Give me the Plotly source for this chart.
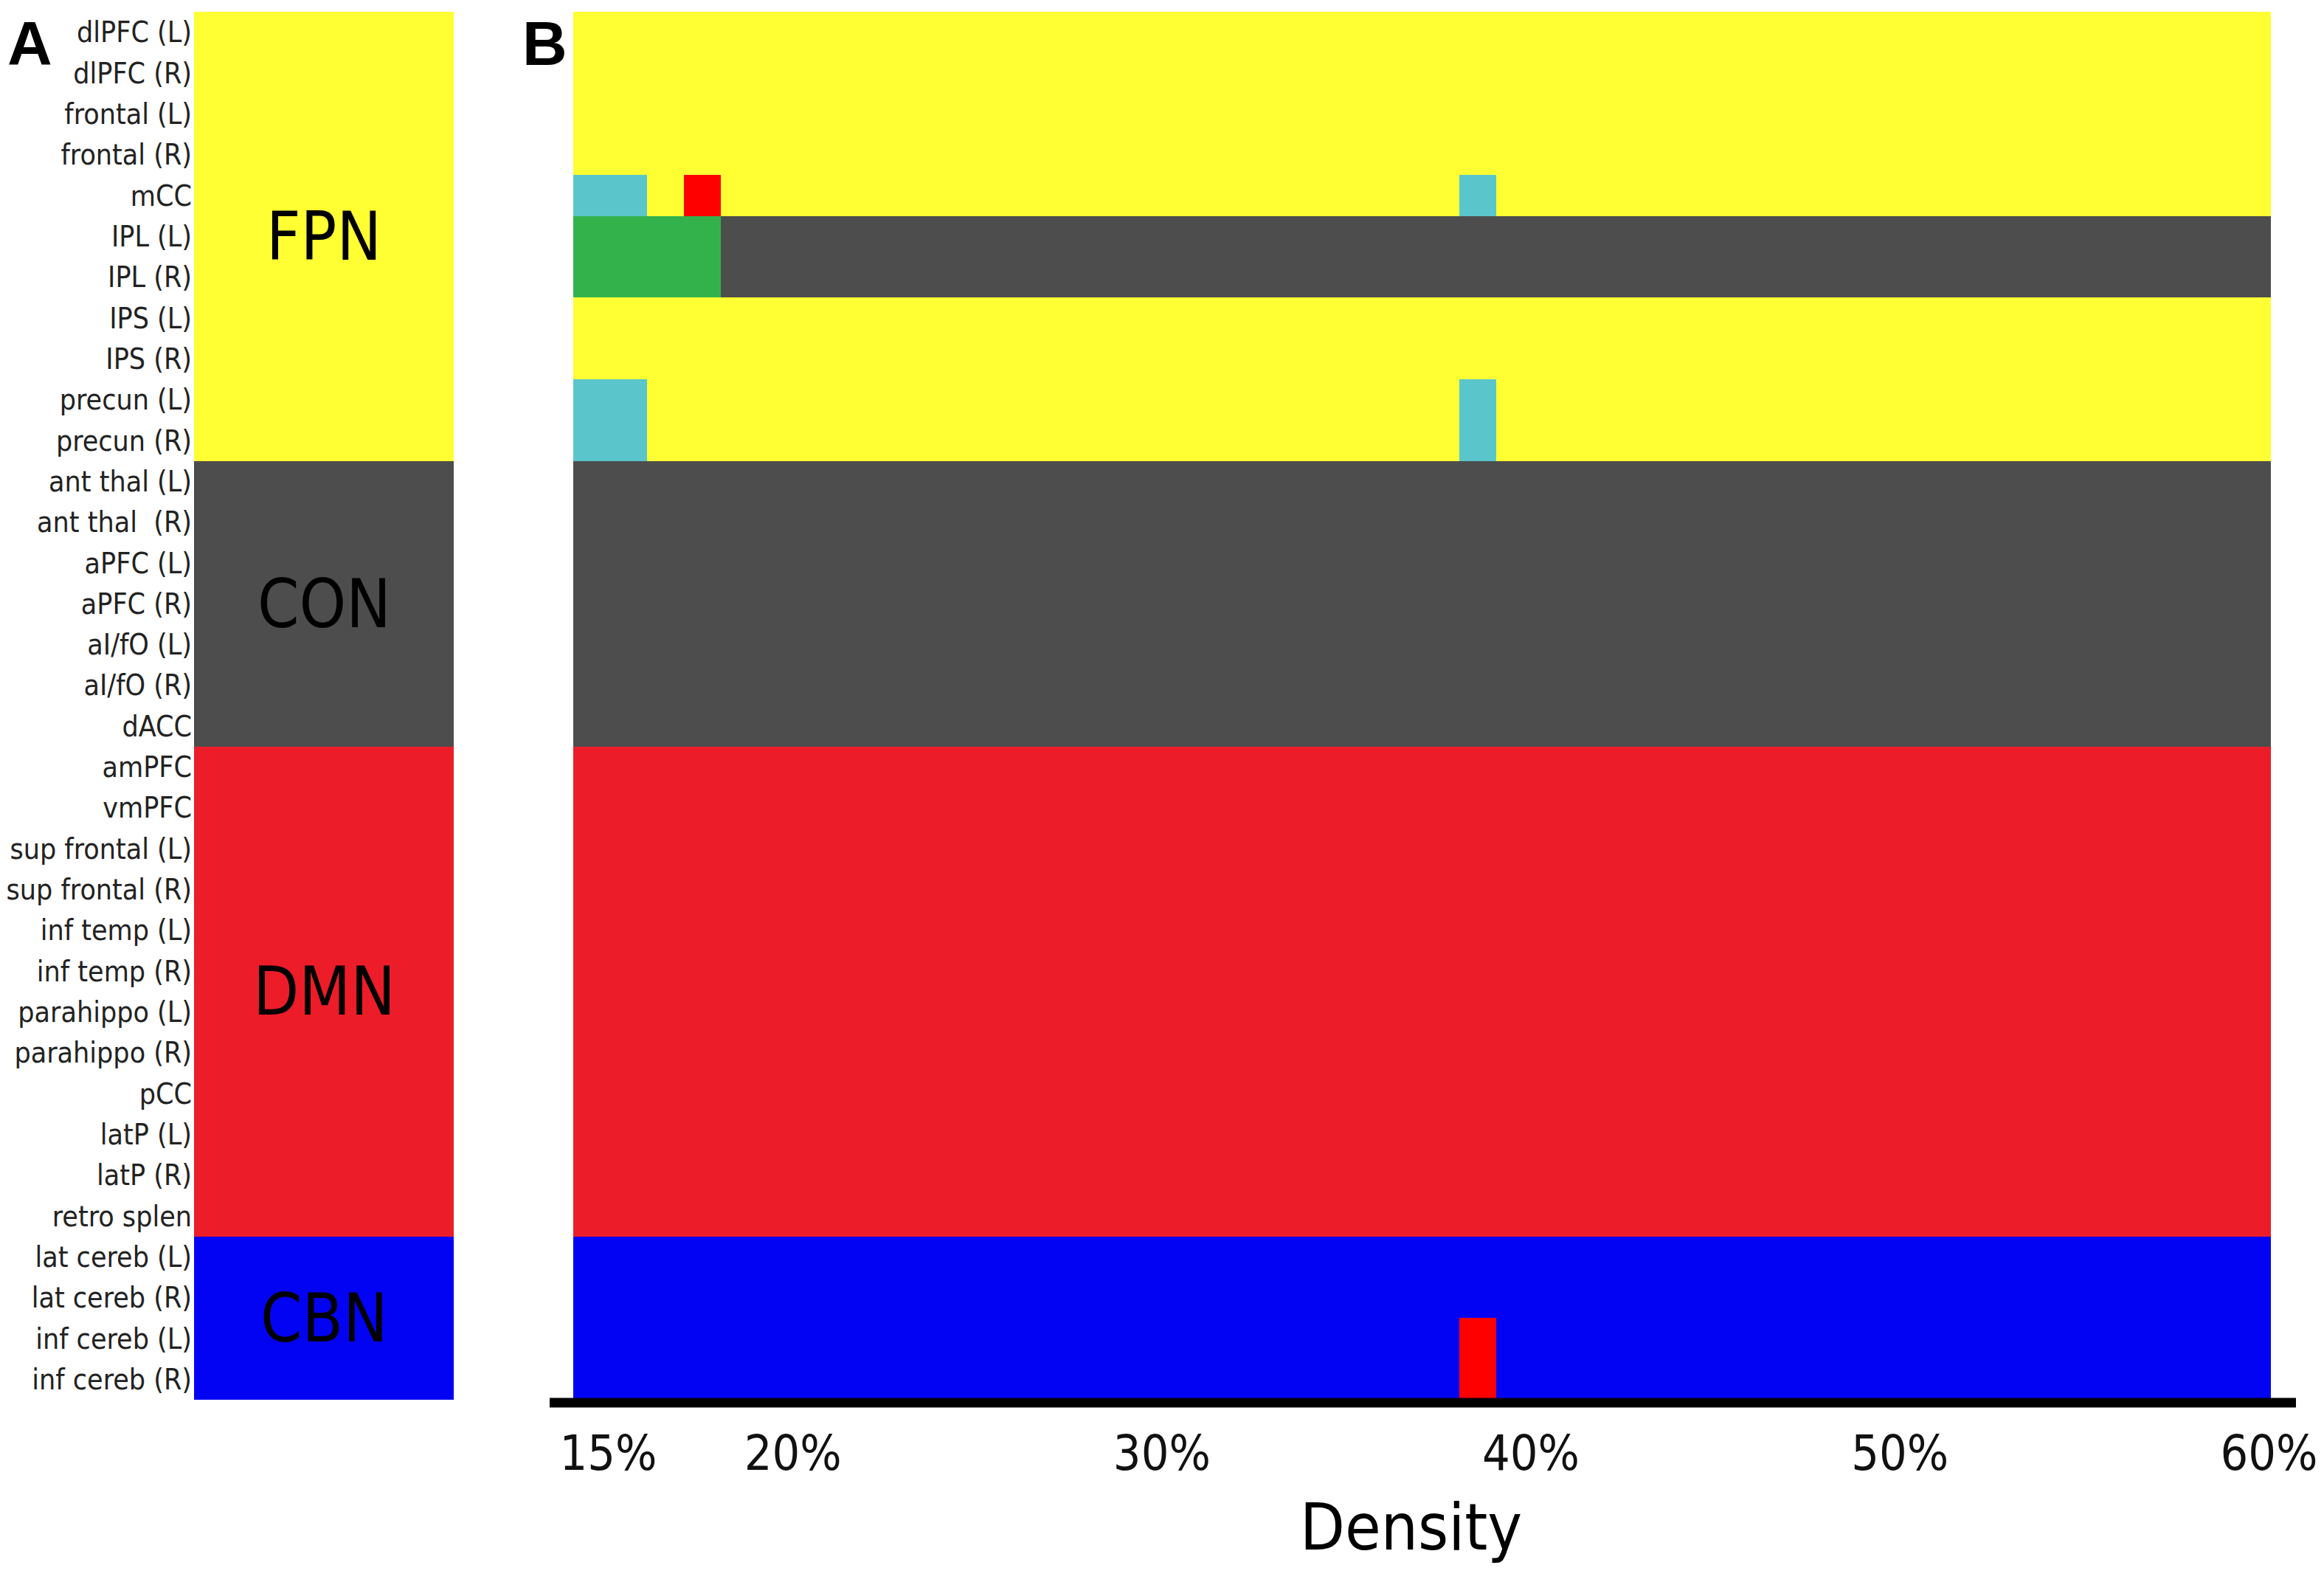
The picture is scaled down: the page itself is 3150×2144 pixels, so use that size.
import plotly.graph_objects as go

# rows, top to bottom
regions = [
    "dlPFC (L)", "dlPFC (R)", "frontal (L)", "frontal (R)", "mCC", "IPL (L)", "IPL (R)",
    "IPS (L)", "IPS (R)", "precun (L)", "precun (R)",
    "ant thal (L)", "ant thal  (R)", "aPFC (L)", "aPFC (R)", "aI/fO (L)", "aI/fO (R)", "dACC",
    "amPFC", "vmPFC", "sup frontal (L)", "sup frontal (R)", "inf temp (L)", "inf temp (R)",
    "parahippo (L)", "parahippo (R)", "pCC", "latP (L)", "latP (R)", "retro splen",
    "lat cereb (L)", "lat cereb (R)", "inf cereb (L)", "inf cereb (R)",
]
networks = ["FPN", "CON", "DMN", "CBN"]
network_sizes = [11, 7, 12, 4]
densities = list(range(15, 61))
tick_densities = [15, 20, 30, 40, 50, 60]

# module codes used in panel B
modules = ["FPN", "CON", "DMN", "CBN", "M5", "M6", "M7"]
module_colors = ["#FFFF33", "#4D4D4D", "#ED1C29", "#0303F3", "#5BC5CC", "#33B24C", "#FE0000"]

# module each region sits in for most densities
base_module = [
    "FPN", "FPN", "FPN", "FPN", "FPN", "CON", "CON", "FPN", "FPN", "FPN", "FPN",
    "CON", "CON", "CON", "CON", "CON", "CON", "CON",
    "DMN", "DMN", "DMN", "DMN", "DMN", "DMN", "DMN", "DMN", "DMN", "DMN", "DMN", "DMN",
    "CBN", "CBN", "CBN", "CBN",
]

# (region, density, module) where assignment differs
switches = [
    ("mCC", 15, "M5"), ("mCC", 16, "M5"), ("mCC", 18, "M7"), ("mCC", 39, "M5"),
    ("IPL (L)", 15, "M6"), ("IPL (L)", 16, "M6"), ("IPL (L)", 17, "M6"), ("IPL (L)", 18, "M6"),
    ("IPL (R)", 15, "M6"), ("IPL (R)", 16, "M6"), ("IPL (R)", 17, "M6"), ("IPL (R)", 18, "M6"),
    ("precun (L)", 15, "M5"), ("precun (L)", 16, "M5"), ("precun (L)", 39, "M5"),
    ("precun (R)", 15, "M5"), ("precun (R)", 16, "M5"), ("precun (R)", 39, "M5"),
    ("inf cereb (L)", 39, "M7"), ("inf cereb (R)", 39, "M7"),
]

W, H = 3150, 2144
PAGE_OFFSET = 8  # body margin of the html page
FONT = "DejaVu Sans Condensed, Liberation Sans Narrow, sans-serif"

# build matrices
code = {m: i for i, m in enumerate(modules)}
z_b = [[code[base_module[r]] for _ in densities] for r in range(len(regions))]
for reg, d, m in switches:
    z_b[regions.index(reg)][densities.index(d)] = code[m]

row_network = []
for net, n in zip(networks, network_sizes):
    row_network += [net] * n
z_a = [[code[net]] for net in row_network]

n = len(modules)
cscale = []
for k, c in enumerate(module_colors):
    cscale += [[k / n, c], [(k + 1) / n, c]]

rows = list(range(len(regions)))

fig = go.Figure()
fig.add_trace(go.Heatmap(
    z=z_a, x=[0], y=rows, colorscale=cscale, zmin=-0.5, zmax=n - 0.5,
    showscale=False, xaxis="x", yaxis="y", hoverinfo="skip",
))
fig.add_trace(go.Heatmap(
    z=z_b, x=densities, y=rows, colorscale=cscale, zmin=-0.5, zmax=n - 0.5,
    showscale=False, xaxis="x2", yaxis="y",
    customdata=[[regions[r]] * len(densities) for r in rows],
    hovertemplate="%{customdata}<br>%{x}%<extra></extra>",
))


def px(v):
    return (v - PAGE_OFFSET) / W


def py(v):
    return 1 - (v - PAGE_OFFSET) / H


# network names in panel A
start = 0
annotations = []
for net, n_rows in zip(networks, network_sizes):
    annotations.append(dict(
        x=0.5, xref="x domain", y=start + (n_rows - 1) / 2, yref="y",
        text=net, showarrow=False, font=dict(family=FONT, size=90, color="black"),
        xanchor="center", yanchor="middle",
    ))
    start += n_rows

annotations += [
    dict(x=px(8), y=py(10), xref="paper", yref="paper", text="<b>A</b>", showarrow=False,
         xanchor="left", yanchor="top", font=dict(family="Liberation Sans, Arial", size=84, color="black")),
    dict(x=px(706), y=py(10), xref="paper", yref="paper", text="<b>B</b>", showarrow=False,
         xanchor="left", yanchor="top", font=dict(family="Liberation Sans, Arial", size=84, color="black")),
    dict(x=px(1913), y=py(2069), xref="paper", yref="paper", text="Density", showarrow=False,
         xanchor="center", yanchor="middle", font=dict(family=FONT, size=88, color="black")),
]

fig.update_layout(
    width=W, height=H,
    margin=dict(l=0, r=0, t=0, b=0, autoexpand=False),
    plot_bgcolor="white", paper_bgcolor="white",
    font=dict(family=FONT, color="#222222"),
    xaxis=dict(domain=[px(263), px(615)], showticklabels=False, showgrid=False,
               zeroline=False, range=[-0.5, 0.5], fixedrange=True, automargin=False),
    xaxis2=dict(domain=[px(777), px(3078)], anchor="y", range=[14.5, 60.5],
                tickvals=[d + 0.45 for d in tick_densities],
                ticktext=[f"{d}%" for d in tick_densities],
                tickfont=dict(family=FONT, size=66, color="#111111"),
                ticks="", ticklabelstandoff=28, showgrid=False, zeroline=False,
                automargin=False),
    yaxis=dict(domain=[py(1897), py(16)], anchor="x", range=[33.5, -0.5],
               tickvals=rows, ticktext=regions, ticks="", ticklabelstandoff=2,
               tickfont=dict(family=FONT, size=39, color="#222222"),
               showgrid=False, zeroline=False, automargin=False),
    annotations=annotations,
    shapes=[dict(type="line", xref="paper", yref="paper",
                 x0=px(745), x1=px(3112), y0=py(1901), y1=py(1901),
                 line=dict(color="black", width=13))],
)

fig.write_html("out.html")
